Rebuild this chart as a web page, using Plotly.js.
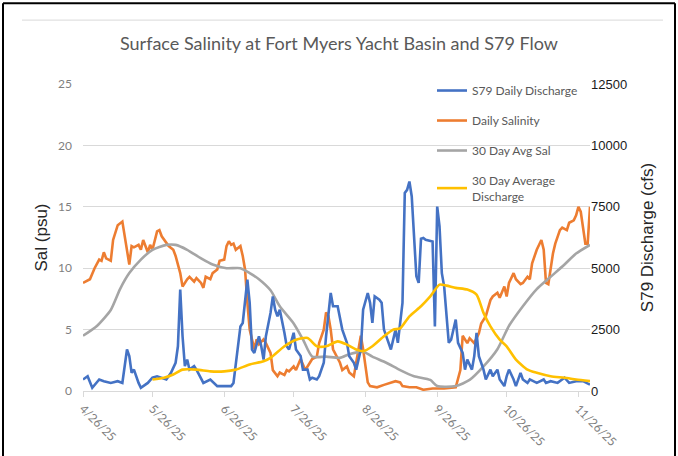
<!DOCTYPE html>
<html>
<head>
<meta charset="utf-8">
<script src="https://cdn.plot.ly/plotly-3.0.1.min.js"></script>
<style>
  html, body { margin: 0; padding: 0; background: #ffffff; }
  #chart { width: 678px; height: 456px; }
</style>
</head>
<body>
<div id="chart"></div>
<script>
// ---------------- DATA ----------------
const chartTitle = "Surface Salinity at Fort Myers Yacht Basin and S79 Flow";
const leftAxisTitle = "Sal (psu)";
const rightAxisTitle = "S79 Discharge (cfs)";
const seriesNames = ["S79 Daily Discharge", "Daily Salinity", "30 Day Avg Sal", "30 Day Average<br>Discharge"];

const xTickVals = ["2025-04-26","2025-05-26","2025-06-26","2025-07-26","2025-08-26","2025-09-26","2025-10-26","2025-11-26"];
const xTickText = ["4/26/25","5/26/25","6/26/25","7/26/25","8/26/25","9/26/25","10/26/25","11/26/25"];
const xRange = ["2025-04-26","2025-12-01"];

// S79 Daily Discharge (cfs)
const dischargeDates = [
 "2025-04-26","2025-04-28","2025-04-30",
 "2025-05-03","2025-05-05","2025-05-08","2025-05-11","2025-05-13","2025-05-15","2025-05-16","2025-05-17","2025-05-18","2025-05-20","2025-05-21","2025-05-24","2025-05-26","2025-05-28","2025-05-30",
 "2025-06-01","2025-06-03","2025-06-05","2025-06-06","2025-06-07","2025-06-08","2025-06-09","2025-06-10","2025-06-11","2025-06-13","2025-06-14","2025-06-17","2025-06-20","2025-06-23","2025-06-26","2025-06-29","2025-06-30",
 "2025-07-01","2025-07-03","2025-07-04","2025-07-06","2025-07-07","2025-07-08","2025-07-09","2025-07-11","2025-07-12","2025-07-13","2025-07-14","2025-07-16","2025-07-17","2025-07-18","2025-07-19","2025-07-20","2025-07-22","2025-07-23","2025-07-24","2025-07-26","2025-07-27","2025-07-29","2025-07-30",
 "2025-08-01","2025-08-02","2025-08-03","2025-08-05","2025-08-06","2025-08-08","2025-08-09","2025-08-11","2025-08-12","2025-08-14","2025-08-15","2025-08-16","2025-08-18","2025-08-19","2025-08-21","2025-08-22","2025-08-24","2025-08-25","2025-08-27","2025-08-28","2025-08-29","2025-08-30",
 "2025-09-01","2025-09-02","2025-09-03","2025-09-05","2025-09-06","2025-09-08","2025-09-09","2025-09-11","2025-09-12","2025-09-13","2025-09-14","2025-09-15","2025-09-16","2025-09-17","2025-09-18","2025-09-19","2025-09-20","2025-09-21","2025-09-24","2025-09-25","2025-09-26","2025-09-27","2025-09-28","2025-09-29",
 "2025-10-01","2025-10-02","2025-10-04","2025-10-05","2025-10-07","2025-10-08","2025-10-09","2025-10-11","2025-10-12","2025-10-13","2025-10-14","2025-10-16","2025-10-17","2025-10-19","2025-10-20","2025-10-22","2025-10-23","2025-10-25","2025-10-26","2025-10-27","2025-10-29","2025-10-30",
 "2025-11-01","2025-11-02","2025-11-04","2025-11-05","2025-11-08","2025-11-11","2025-11-12","2025-11-14","2025-11-17","2025-11-20","2025-11-22","2025-11-25","2025-11-28","2025-12-01"
];
const dischargeCfs = [
 470,600,130,
 470,400,330,400,330,1690,1420,740,870,330,130,330,540,600,540,
 470,740,1150,1820,4130,2230,1010,1280,870,1010,870,330,470,200,200,200,330,
 1150,2630,2770,4530,3590,1690,1550,2230,1820,1280,2230,3180,3850,3310,3040,3310,2370,1820,1690,2370,1690,1420,870,
 870,470,540,470,600,1150,2230,3990,3450,3450,3040,2500,1960,1420,1150,870,1690,3310,3990,3590,2770,3850,
 3720,3590,2500,1960,1690,2500,1960,3590,8060,8190,8530,7920,6500,4670,4400,6200,6230,6160,6090,2630,7510,6700,4800,4260,
 1960,2090,2910,1960,1550,870,1280,870,1420,2370,1420,870,470,870,600,870,470,200,600,870,470,200,
 740,470,330,470,330,470,330,400,330,540,330,400,400,260
];

// Daily Salinity (psu)
const salinityDates = [
 "2025-04-26","2025-04-29",
 "2025-05-01","2025-05-03","2025-05-04","2025-05-05","2025-05-06","2025-05-08","2025-05-09","2025-05-11","2025-05-13","2025-05-14","2025-05-16","2025-05-17","2025-05-18","2025-05-20","2025-05-21","2025-05-22","2025-05-24","2025-05-25","2025-05-26","2025-05-28","2025-05-29","2025-05-30","2025-05-31",
 "2025-06-02","2025-06-04","2025-06-05","2025-06-07","2025-06-08","2025-06-10","2025-06-11","2025-06-13","2025-06-14","2025-06-16","2025-06-17","2025-06-18","2025-06-20","2025-06-21","2025-06-23","2025-06-24","2025-06-26","2025-06-27","2025-06-28","2025-06-29","2025-06-30",
 "2025-07-01","2025-07-03","2025-07-04","2025-07-05","2025-07-06","2025-07-07","2025-07-09","2025-07-10","2025-07-11","2025-07-13","2025-07-14","2025-07-16","2025-07-17","2025-07-19","2025-07-20","2025-07-22","2025-07-23","2025-07-24","2025-07-26","2025-07-27","2025-07-29","2025-07-31",
 "2025-08-02","2025-08-03","2025-08-05","2025-08-06","2025-08-08","2025-08-09","2025-08-10","2025-08-11","2025-08-12","2025-08-14","2025-08-15","2025-08-16","2025-08-18","2025-08-19","2025-08-21","2025-08-22","2025-08-24","2025-08-25","2025-08-26","2025-08-27","2025-08-28","2025-08-31",
 "2025-09-03","2025-09-06","2025-09-08","2025-09-10","2025-09-11","2025-09-14","2025-09-17","2025-09-20","2025-09-24","2025-09-29",
 "2025-10-04","2025-10-06","2025-10-07","2025-10-09","2025-10-10","2025-10-12","2025-10-14","2025-10-15","2025-10-17","2025-10-19","2025-10-20","2025-10-22","2025-10-23","2025-10-25","2025-10-26","2025-10-27","2025-10-29","2025-10-30",
 "2025-11-01","2025-11-02","2025-11-04","2025-11-05","2025-11-06","2025-11-08","2025-11-10","2025-11-11","2025-11-12","2025-11-13","2025-11-14","2025-11-15","2025-11-16","2025-11-18","2025-11-19","2025-11-21","2025-11-22","2025-11-24","2025-11-25","2025-11-26","2025-11-27","2025-11-29","2025-11-30",
 "2025-12-01"
];
const salinityPsu = [
 8.8,9.1,
 10.0,10.7,10.6,11.3,10.8,10.6,12.3,13.5,13.8,12.5,10.3,11.8,11.7,11.9,11.5,12.3,11.3,11.9,11.5,13.0,13.1,12.6,12.3,
 11.8,11.5,11.0,9.6,8.5,9.1,9.3,8.9,9.2,8.8,8.4,9.3,9.1,9.6,9.9,10.6,10.7,11.8,12.2,11.9,12.0,
 11.5,11.8,11.0,9.9,7.2,5.0,3.4,4.2,3.8,4.2,3.9,3.1,1.7,1.2,1.5,1.3,1.7,1.6,2.0,1.7,2.6,1.7,
 2.3,2.6,2.8,3.9,5.0,6.4,6.1,5.0,3.4,2.6,2.3,1.7,2.0,1.5,1.2,2.3,4.5,3.4,2.0,0.7,0.4,0.3,
 0.5,0.7,0.8,0.7,0.4,0.3,0.3,0.1,0.2,0.2,
 0.3,1.7,4.5,3.9,4.3,3.9,4.7,5.5,6.1,7.4,7.7,8.0,7.6,8.5,7.7,8.8,9.6,9.1,
 8.7,8.8,9.3,9.1,10.4,11.5,12.3,11.5,8.8,8.7,9.9,11.2,12.0,13.1,13.3,13.1,13.7,13.9,14.3,15.0,14.6,12.0,12.0,
 15.0
];

// 30 Day Avg Sal (psu)
const avgSalDates = [
 "2025-04-26","2025-05-02","2025-05-08","2025-05-12","2025-05-16","2025-05-21","2025-05-26",
 "2025-06-01","2025-06-05","2025-06-10","2025-06-16","2025-06-21","2025-06-27",
 "2025-07-03","2025-07-07","2025-07-11","2025-07-16","2025-07-20","2025-07-26","2025-07-30",
 "2025-08-03","2025-08-09","2025-08-15","2025-08-19","2025-08-25","2025-08-29",
 "2025-09-04","2025-09-10","2025-09-16","2025-09-23","2025-09-26",
 "2025-10-04","2025-10-10","2025-10-16","2025-10-22","2025-10-27",
 "2025-11-02","2025-11-08","2025-11-14","2025-11-20","2025-11-25","2025-12-01"
];
const avgSalPsu = [
 4.5,5.3,6.6,8.3,9.6,10.7,11.5,
 11.9,11.9,11.5,10.8,10.3,10.0,
 10.0,9.6,9.1,8.2,6.9,5.5,4.2,
 2.8,2.8,2.7,3.0,3.2,2.8,
 2.3,1.7,1.2,0.9,0.4,
 0.4,0.9,2.0,3.4,5.3,
 6.9,8.3,9.3,10.3,11.2,11.9
];

// 30 Day Average Discharge (cfs)
const avgDischargeDates = [
 "2025-05-26","2025-05-31",
 "2025-06-04","2025-06-08","2025-06-14","2025-06-20","2025-06-26",
 "2025-07-01","2025-07-07","2025-07-13","2025-07-16","2025-07-22","2025-07-27",
 "2025-08-01","2025-08-05","2025-08-09","2025-08-14","2025-08-18","2025-08-22","2025-08-25","2025-08-29",
 "2025-09-03","2025-09-07","2025-09-10","2025-09-14","2025-09-19","2025-09-23","2025-09-27","2025-09-30",
 "2025-10-04","2025-10-09","2025-10-13","2025-10-16","2025-10-19","2025-10-23","2025-10-26","2025-10-30",
 "2025-11-04","2025-11-08","2025-11-14","2025-11-20","2025-11-25","2025-12-01"
];
const avgDischargeCfs = [
 470,540,
 670,870,870,800,800,
 870,1080,1210,1350,1820,2090,
 2160,1820,1820,2020,1890,1690,1620,1820,
 2230,2500,2550,3040,3450,3850,4330,4290,
 4200,4130,3920,3180,2630,2090,1820,1280,
 870,740,600,540,470,400
];

const seriesColors = ["#4472C4", "#ED7D31", "#A5A5A5", "#FFC000"];

// ---------------- CHART ----------------
const lw = 2.6;
const traces = [
  { x: dischargeDates, y: dischargeCfs, name: seriesNames[0], type: "scatter", mode: "lines",
    line: { color: seriesColors[0], width: lw }, yaxis: "y2", legendgroup: "a" },
  { x: salinityDates, y: salinityPsu, name: seriesNames[1], type: "scatter", mode: "lines",
    line: { color: seriesColors[1], width: lw }, yaxis: "y", legendgroup: "b" },
  { x: avgSalDates, y: avgSalPsu, name: seriesNames[2], type: "scatter", mode: "lines",
    line: { color: seriesColors[2], width: lw, shape: "spline", smoothing: 0.6 }, yaxis: "y", legendgroup: "c" },
  { x: avgDischargeDates, y: avgDischargeCfs, name: seriesNames[3], type: "scatter", mode: "lines",
    line: { color: seriesColors[3], width: lw, shape: "spline", smoothing: 0.6 }, yaxis: "y2", legendgroup: "d" }
];

const PW = 507, PH = 307.5, L = 83, B = 391.5;
function px(xp) { return (xp - L) / PW; }
function py(yp) { return (B - yp) / PH; }

const layout = {
  width: 678, height: 456,
  margin: { l: 83, r: 88, t: 84, b: 64.5, pad: 0 },
  paper_bgcolor: "#ffffff", plot_bgcolor: "#ffffff",
  showlegend: true,
  title: {
    text: chartTitle,
    font: { family: "Lato, 'Open Sans', sans-serif", size: 18, color: "#595959" },
    x: 0.5, xanchor: "center", xref: "container",
    y: 1 - 44 / 456, yanchor: "middle", yref: "container"
  },
  xaxis: {
    type: "date", range: xRange,
    tickvals: xTickVals, ticktext: xTickText, tickangle: 45,
    tickfont: { family: "Lato, 'Open Sans', sans-serif", size: 12, color: "#7f7f7f" },
    ticks: "outside", ticklen: 5, tickcolor: "#d9d9d9", tickwidth: 1,
    showline: true, linecolor: "#d9d9d9", linewidth: 1,
    showgrid: false, zeroline: false, fixedrange: true
  },
  yaxis: {
    range: [0, 25], dtick: 5, tick0: 0,
    tickfont: { family: "Lato, 'Open Sans', sans-serif", size: 12, color: "#7f7f7f" },
    ticklabelstandoff: 10,
    showgrid: true, gridcolor: "#d9d9d9", gridwidth: 1,
    zeroline: false, showline: false, ticks: "",
    title: { text: leftAxisTitle, font: { family: "'Liberation Sans', Arial, sans-serif", size: 17, color: "#262626" }, standoff: 6 },
    fixedrange: true
  },
  yaxis2: {
    overlaying: "y", side: "right",
    range: [0, 12500], dtick: 2500, tick0: 0, tickformat: "d",
    tickfont: { family: "'Liberation Sans', Arial, sans-serif", size: 13, color: "#1a1a1a" },
    showgrid: false, zeroline: false, showline: false, ticks: "",
    title: { text: rightAxisTitle, font: { family: "'Liberation Sans', Arial, sans-serif", size: 17, color: "#262626" }, standoff: 14 },
    fixedrange: true
  },
  legend: {
    x: px(432), y: py(76), xanchor: "left", yanchor: "top",
    bgcolor: "rgba(0,0,0,0)", borderwidth: 0,
    font: { family: "Lato, 'Open Sans', sans-serif", size: 12, color: "#595959" },
    traceorder: "grouped", tracegroupgap: 11
  },
  shapes: [
    { type: "line", xref: "paper", yref: "paper", x0: px(22), x1: px(663), y0: py(20), y1: py(20),
      line: { color: "#d9d9d9", width: 1 } },
    { type: "line", xref: "paper", yref: "paper", x0: px(3), x1: px(3), y0: py(3), y1: py(460),
      line: { color: "#000000", width: 2 } },
    { type: "line", xref: "paper", yref: "paper", x0: px(3), x1: px(675), y0: py(3), y1: py(3),
      line: { color: "#000000", width: 2 } },
    { type: "line", xref: "paper", yref: "paper", x0: px(675), x1: px(675), y0: py(3), y1: py(460),
      line: { color: "#000000", width: 2 } }
  ]
};

Plotly.newPlot("chart", traces, layout, { displayModeBar: false, staticPlot: true });
</script>
</body>
</html>
